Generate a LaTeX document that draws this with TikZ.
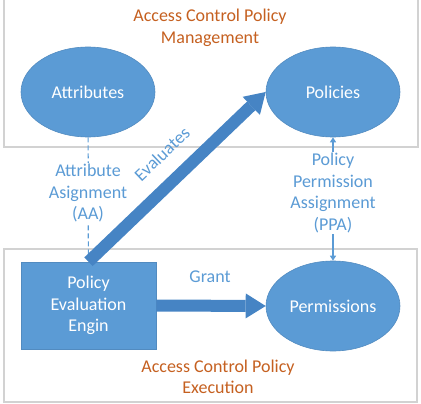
\documentclass[tikz,border=0pt]{standalone}
\usepackage{fontspec}
\setmainfont{Carlito}
\usetikzlibrary{arrows.meta,shapes.geometric}
\definecolor{shapeblue}{RGB}{91,155,213}
\definecolor{arrowblue}{RGB}{70,132,196}
\definecolor{titleorange}{RGB}{197,96,32}
\definecolor{framegray}{RGB}{210,210,210}
\begin{document}
\begin{tikzpicture}[x=1pt,y=-1pt,
	every node/.style={font=\fontsize{18}{21.5}\selectfont},
	bubble/.style={ellipse, fill=shapeblue, draw=shapeblue!90!black, line width=0.6pt, text=white, minimum width=134pt, minimum height=90pt, inner sep=0pt},
	engine/.style={rectangle, fill=shapeblue, draw=shapeblue!90!black, line width=0.6pt, text=white, minimum width=135pt, minimum height=87pt, inner sep=0pt, align=center},
	area/.style={draw=framegray, line width=1.2pt},
	areatitle/.style={text=titleorange, align=center, inner sep=0pt},
	linktext/.style={text=shapeblue, align=center, fill=white, inner sep=1pt},
	link/.style={draw=shapeblue, line width=1.2pt},
	block/.style={draw=arrowblue, line width=12pt, -{Triangle[length=20pt,width=25pt,line width=0pt]}}]
				\useasboundingbox (0,0) rectangle (421,404);
				%-- frames
				\draw[area] (4,-5) rectangle (418,147);
				\draw[area] (4,249) rectangle (417,402);
				\node[areatitle] (mgmt) at (210,28) {Access Control Policy\\Management};
				\node[areatitle] (exec) at (218,377) {Access Control Policy\\Execution};
				%-- shapes
				\node[bubble] (attr) at (88,92) {Attributes};
				\node[bubble] (pol) at (333,92) {Policies};
				\node[bubble] (perm) at (333,306) {Permissions};
				\node[engine] (pee) at (88.5,305.5) {Policy\\Evaluation\\Engin};
				%-- assignments
				\draw[link, dash pattern=on 5pt off 3pt, -{Triangle[length=5pt,width=6pt]}] (attr) -- (pee);
				\node[linktext] (aa) at (88,193) {Attribute\\Asignment\\(AA)};
				\draw[link, {Triangle[length=5pt,width=6pt]}-{Triangle[length=5pt,width=6pt]}] (pol) -- (perm);
				\node[linktext] (ppa) at (333,193) {Policy\\Permission\\Assignment\\(PPA)};
				%-- block arrows
				\draw[block] (pee.north) -- (pol.west);
				\node[linktext, fill=none, rotate=43.5] (ev) at (162,154) {Evaluates};
				\draw[block] (pee.east) -- (perm.west);
				\node[linktext, fill=none] (grant) at (210,277) {Grant};
\end{tikzpicture}
\end{document}
